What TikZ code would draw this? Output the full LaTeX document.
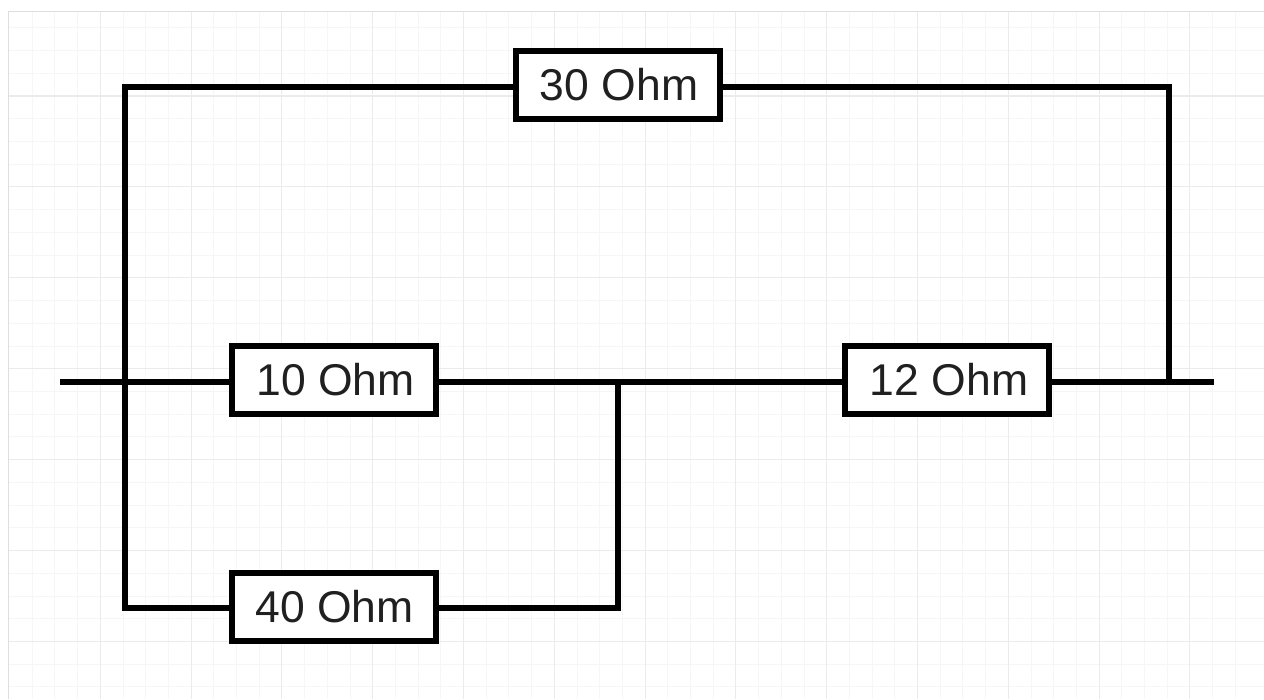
\documentclass[tikz,border=0pt]{standalone}
\usepackage{fontspec}
\setmainfont{Liberation Sans}
\definecolor{gridmajor}{HTML}{EBEBEB}
\definecolor{gridminor}{HTML}{F6F6F6}
\definecolor{edgeline}{HTML}{DEDEDE}
\definecolor{labeltext}{HTML}{202020}
\tikzset{
  resistor/.style={draw=black,fill=white,line width=6.5pt,rectangle,inner sep=0pt,outer sep=0pt,
    minimum width=204pt,minimum height=68pt,text=labeltext,font=\fontsize{44.5}{45}\selectfont},
  wire/.style={draw=black,line width=6pt,line cap=butt,line join=miter},
  minorgrid/.style={draw=gridminor,line width=1pt},
  majorgrid/.style={draw=gridmajor,line width=1.1pt}
}
\begin{document}
\begin{tikzpicture}[x=1pt,y=-1pt]
  \useasboundingbox (0,0) rectangle (1264,699);
  \fill[white] (0,0) rectangle (1264,699);
  % minor grid
  \foreach \k in {-3,...,50} {
    \pgfmathsetmacro\xx{100.3+22.7*\k}
    \draw[minorgrid] (\xx,12) -- (\xx,699);
  }
  \foreach \k in {-3,...,26} {
    \pgfmathsetmacro\yy{96+22.73*\k}
    \draw[minorgrid] (8,\yy) -- (1264,\yy);
  }
  % major grid
  \foreach \k in {0,...,12} {
    \pgfmathsetmacro\xx{100.3+90.8*\k}
    \draw[majorgrid] (\xx,12) -- (\xx,699);
  }
  \foreach \k in {0,...,6} {
    \pgfmathsetmacro\yy{96+90.9*\k}
    \draw[majorgrid] (8,\yy) -- (1264,\yy);
  }
  % sheet edges
  \draw[edgeline,line width=1.6pt] (8.5,699) -- (8.5,11.5) -- (1264,11.5);

  % resistors
  \node[resistor] (r30) at (618,85) {\hspace{2pt}\raisebox{-1pt}{30 Ohm}};
  \node[resistor] (r10) at (334,380) {\hspace{3pt}\raisebox{-1pt}{10 Ohm}};
  \node[resistor] (r40) at (334,607) {\hspace{1pt}\raisebox{-1pt}{40 Ohm}};
  \node[resistor] (r12) at (947,380) {\hspace{4pt}\raisebox{-1pt}{12 Ohm}};

  % free ends and junctions
  \coordinate (inlet) at (60,381.5);
  \coordinate (outlet) at (1214,381.5);
  \coordinate (leftjoin) at (125,381.5);
  \coordinate (midjoin) at (617.5,381.5);
  \coordinate (rightjoin) at (1169,381.5);
  \coordinate (topleft) at (125,87);
  \coordinate (topright) at (1169,87);
  \coordinate (bottomleft) at (125,608);
  \coordinate (bottomright) at (617.5,608);

  % connectors
  \draw[wire] (inlet) -- (leftjoin) -- (leftjoin -| r10.west);
  \draw[wire] (r10.east |- midjoin) -- (midjoin) -- (midjoin -| r12.west);
  \draw[wire] (r12.east |- rightjoin) -- (rightjoin) -- (outlet);
  \draw[wire] (r30.west |- topleft) -- (topleft) -- (bottomleft) -- (r40.west |- bottomleft);
  \draw[wire] (r30.east |- topright) -- (topright) -- (rightjoin);
  \draw[wire] (r40.east |- bottomright) -- (bottomright) -- (midjoin);
\end{tikzpicture}
\end{document}
